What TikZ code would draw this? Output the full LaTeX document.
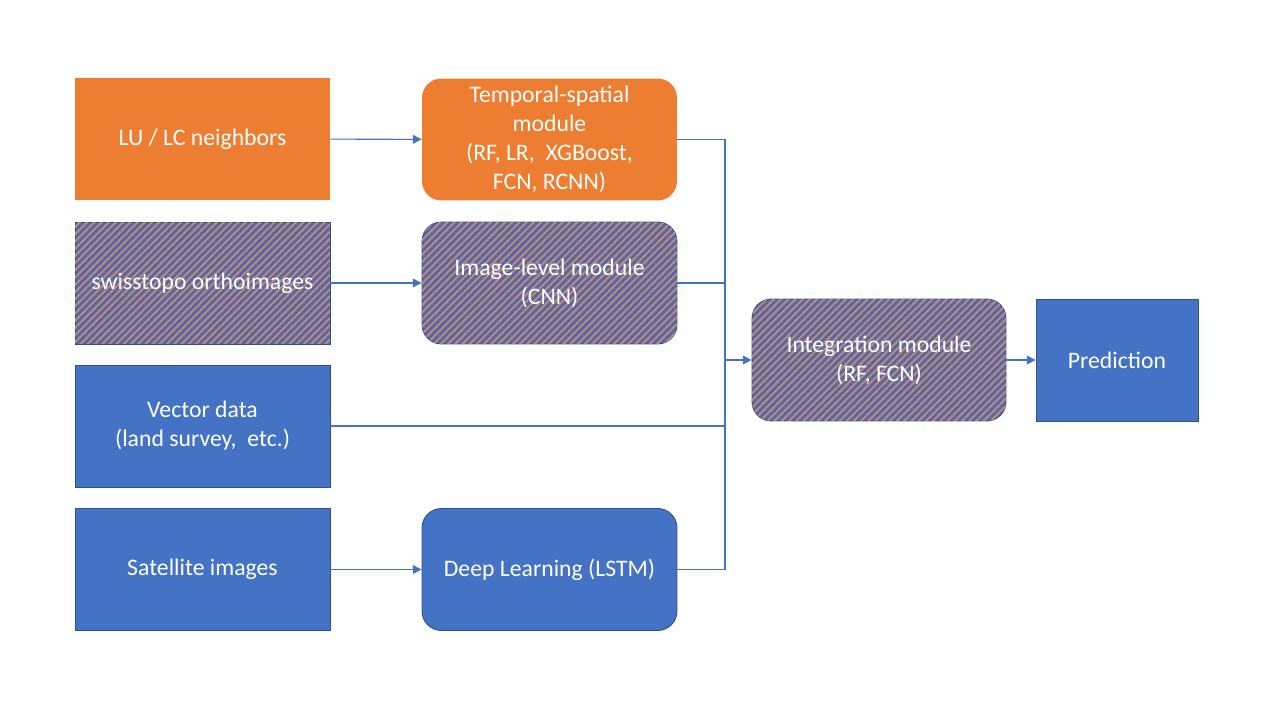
\documentclass[tikz,border=0pt]{standalone}
\usepackage{fontspec}
\setmainfont{Carlito}
\usetikzlibrary{arrows.meta,patterns.meta}
\definecolor{cblue}{HTML}{4472C4}
\definecolor{corange}{HTML}{ED7D31}
\definecolor{cborder}{HTML}{2F528F}
\definecolor{hblue}{HTML}{5069B0}
\definecolor{horange}{HTML}{C98A6A}
\tikzset{
  box/.style={minimum width=5.1cm, minimum height=2.44cm, align=center, text=white,
    font=\fontsize{13.5}{16.4}\selectfont, inner sep=2pt},
  orangebox/.style={box, fill=corange},
  bluebox/.style={box, fill=cblue, draw=cborder, line width=0.5pt},
  hatchbox/.style={box, fill=hblue, draw=cborder, line width=0.5pt,
    postaction={pattern={Lines[angle=45,distance=2.9pt,line width=1.1pt]}, pattern color=horange}},
  rnd/.style={rounded corners=11pt},
  conn/.style={draw=cblue, line width=0.6pt},
  arr/.style={conn, -{Triangle[length=5pt,width=5pt]}}
}
\begin{document}
\begin{tikzpicture}[x=0.02cm,y=-0.02cm]
\useasboundingbox (0,0) rectangle (1280,720);
\node[orangebox] (lu) at (202.5,139) {LU / LC neighbors};
\node[orangebox,rnd] (tem) at (549.5,139.5) {Temporal-spatial\\module\\(RF, LR,~ XGBoost,\\FCN, RCNN)};
\node[hatchbox] (sw) at (202.5,283) {swisstopo orthoimages};
\node[hatchbox,rnd] (img) at (549.5,283) {Image-level module\\(CNN)};
\node[bluebox] (vec) at (202.5,426) {Vector data\\(land survey,~ etc.)};
\node[bluebox] (sat) at (202.5,569.5) {Satellite images};
\node[bluebox,rnd] (deep) at (549.5,569.5) {Deep Learning (LSTM)};
\node[hatchbox,rnd,minimum width=5.08cm] (int) at (879,360) {Integration module\\(RF, FCN)};
\node[bluebox,minimum width=3.24cm] (pred) at (1117,360) {Prediction};
\coordinate (bt) at (725,139.5);
\coordinate (bb) at (725,569.5);
\coordinate (bm) at (725,360);
\draw[arr] (lu) -- (tem);
\draw[arr] (sw) -- (img);
\draw[arr] (sat) -- (deep);
\draw[conn] (tem.east) -- (bt) -- (bb) -- (deep.east);
\draw[conn] (img.east) -- (img.east -| bt);
\draw[conn] (vec.east) -- (vec.east -| bt);
\draw[arr] (bm) -- (int.west);
\draw[arr] (int) -- (pred);
\end{tikzpicture}
\end{document}
